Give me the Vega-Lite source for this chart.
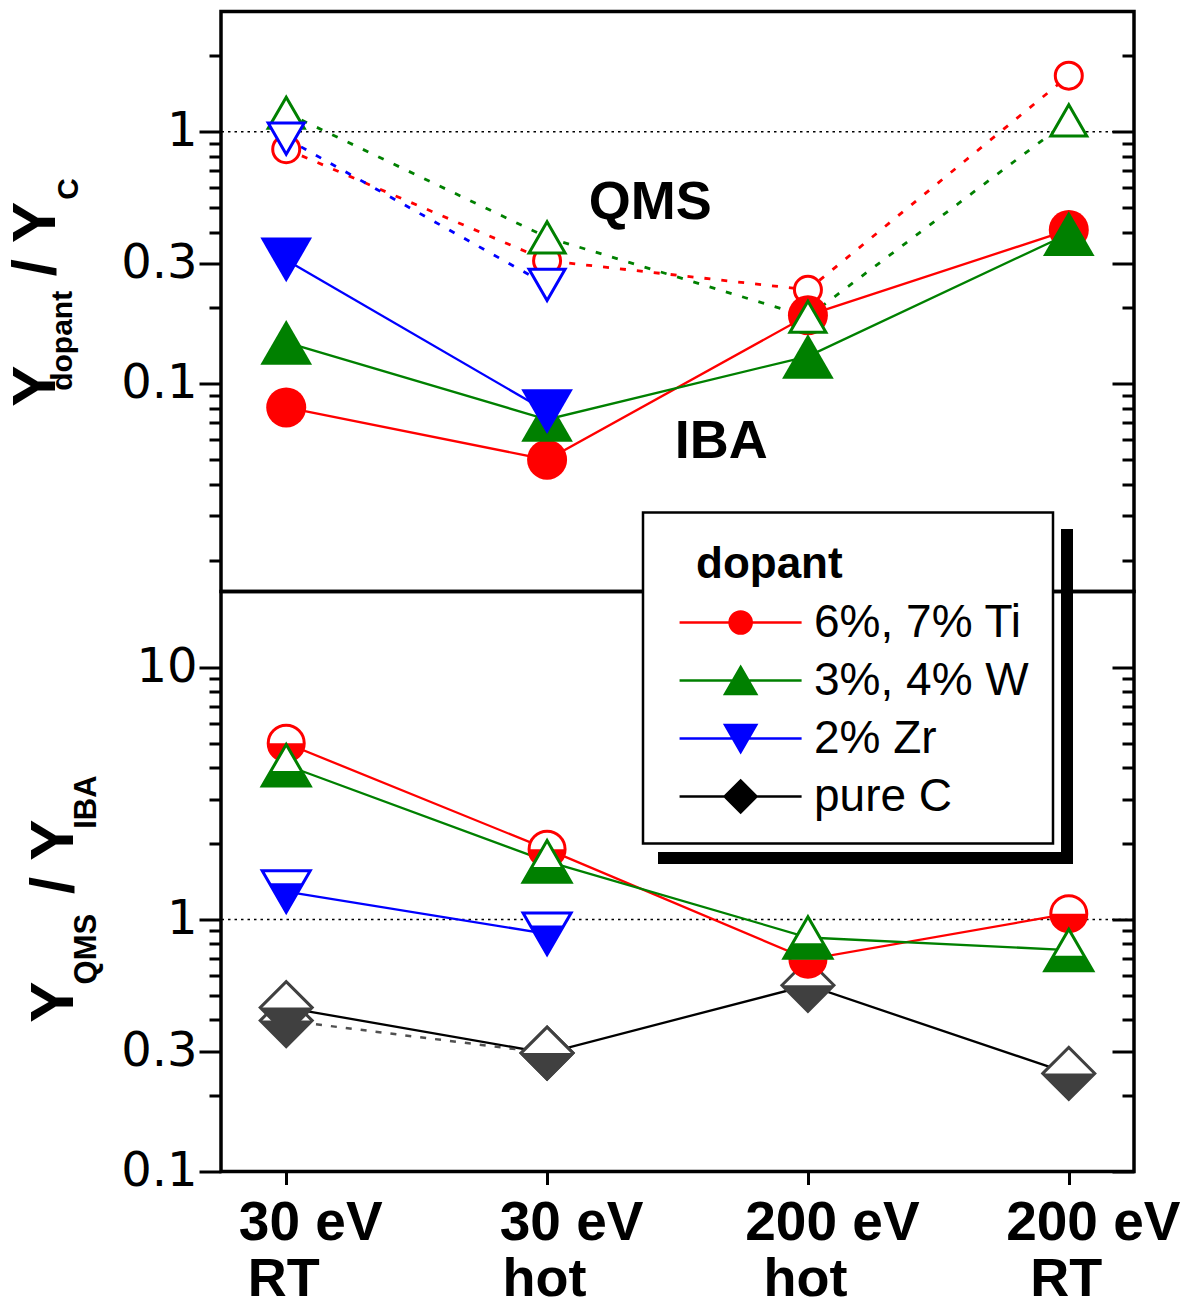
{
  "$schema": "https://vega.github.io/schema/vega-lite/v6.json",
  "padding": {"left": 3, "top": 9.5, "right": 0, "bottom": 0},
  "spacing": 0,
  "bounds": "flush",
  "config": {
    "font": "Liberation Sans",
    "view": {"stroke": "black", "strokeWidth": 3.5},
    "axis": {"grid": false, "domain": false, "tickColor": "black", "tickWidth": 3, "labelColor": "black"},
    "legend": {
      "titleFont": "Liberation Sans", "titleFontSize": 44, "titleFontWeight": "bold", "titleColor": "black", "titlePadding": 19,
      "labelFont": "Liberation Sans", "labelFontSize": 46, "labelColor": "black", "labelOffset": 101, "labelLimit": 400,
      "padding": 24, "rowPadding": 12, "symbolSize": 576, "symbolStrokeWidth": 2.5, "symbolOpacity": 1
    }
  },
  "datasets": {
    "top": [
      {"x": 1, "dopant": "6%, 7% Ti", "method": "QMS", "y": 0.853},
      {"x": 2, "dopant": "6%, 7% Ti", "method": "QMS", "y": 0.308},
      {"x": 3, "dopant": "6%, 7% Ti", "method": "QMS", "y": 0.236},
      {"x": 4, "dopant": "6%, 7% Ti", "method": "QMS", "y": 1.67},
      {"x": 1, "dopant": "3%, 4% W", "method": "QMS", "y": 1.19},
      {"x": 2, "dopant": "3%, 4% W", "method": "QMS", "y": 0.381},
      {"x": 3, "dopant": "3%, 4% W", "method": "QMS", "y": 0.1845},
      {"x": 4, "dopant": "3%, 4% W", "method": "QMS", "y": 1.11},
      {"x": 1, "dopant": "2% Zr", "method": "QMS", "y": 0.94},
      {"x": 2, "dopant": "2% Zr", "method": "QMS", "y": 0.247},
      {"x": 1, "dopant": "6%, 7% Ti", "method": "IBA", "y": 0.0806},
      {"x": 2, "dopant": "6%, 7% Ti", "method": "IBA", "y": 0.05},
      {"x": 3, "dopant": "6%, 7% Ti", "method": "IBA", "y": 0.187},
      {"x": 4, "dopant": "6%, 7% Ti", "method": "IBA", "y": 0.408},
      {"x": 1, "dopant": "3%, 4% W", "method": "IBA", "y": 0.146},
      {"x": 2, "dopant": "3%, 4% W", "method": "IBA", "y": 0.0722},
      {"x": 3, "dopant": "3%, 4% W", "method": "IBA", "y": 0.1286},
      {"x": 4, "dopant": "3%, 4% W", "method": "IBA", "y": 0.394},
      {"x": 1, "dopant": "2% Zr", "method": "IBA", "y": 0.31},
      {"x": 2, "dopant": "2% Zr", "method": "IBA", "y": 0.0776}
    ],
    "bottom": [
      {"x": 1, "dopant": "pure C", "series": "b", "y": 0.397},
      {"x": 2, "dopant": "pure C", "series": "b", "y": 0.295},
      {"x": 1, "dopant": "pure C", "series": "a", "y": 0.447},
      {"x": 2, "dopant": "pure C", "series": "a", "y": 0.295},
      {"x": 3, "dopant": "pure C", "series": "a", "y": 0.548},
      {"x": 4, "dopant": "pure C", "series": "a", "y": 0.245},
      {"x": 1, "dopant": "6%, 7% Ti", "series": "a", "y": 5.0},
      {"x": 2, "dopant": "6%, 7% Ti", "series": "a", "y": 1.9},
      {"x": 3, "dopant": "6%, 7% Ti", "series": "a", "y": 0.695},
      {"x": 4, "dopant": "6%, 7% Ti", "series": "a", "y": 1.054},
      {"x": 1, "dopant": "3%, 4% W", "series": "a", "y": 4.09},
      {"x": 2, "dopant": "3%, 4% W", "series": "a", "y": 1.7},
      {"x": 3, "dopant": "3%, 4% W", "series": "a", "y": 0.848},
      {"x": 4, "dopant": "3%, 4% W", "series": "a", "y": 0.756},
      {"x": 1, "dopant": "2% Zr", "series": "a", "y": 1.29},
      {"x": 2, "dopant": "2% Zr", "series": "a", "y": 0.877}
    ],
    "notes": [
      {"text": "QMS", "x": 2.396, "y": 0.522},
      {"text": "IBA", "x": 2.668, "y": 0.059}
    ],
    "titleTop": [
      {"text": "Y", "kind": "base", "x": 0.113, "y": 0.0811},
      {"text": "/ Y", "kind": "base", "x": 0.113, "y": 0.267},
      {"text": "dopant", "kind": "sub", "x": 0.178, "y": 0.0938},
      {"text": "C", "kind": "sub", "x": 0.2, "y": 0.537}
    ],
    "titleBottom": [
      {"text": "Y", "kind": "base", "x": 0.182, "y": 0.389},
      {"text": "/ Y", "kind": "base", "x": 0.182, "y": 1.262},
      {"text": "QMS", "kind": "sub", "x": 0.271, "y": 0.552},
      {"text": "IBA", "kind": "sub", "x": 0.271, "y": 2.29}
    ]
  },
  "vconcat": [
    {
      "width": 913,
      "height": 580,
      "resolve": {"axis": {"y": "independent"}},
      "layer": [
        {
          "data": {"values": [{}]},
          "mark": {"type": "rule", "color": "black", "strokeWidth": 1.5, "strokeDash": [2.5, 4]},
          "encoding": {
            "y": {
              "datum": 1, "type": "quantitative",
              "scale": {"type": "log", "domain": [0.015, 3], "nice": false},
              "axis": {
                "orient": "left", "title": null,
                "values": [0.02, 0.03, 0.04, 0.05, 0.06, 0.07, 0.08, 0.09, 0.1, 0.2, 0.3, 0.4, 0.5, 0.6, 0.7, 0.8, 0.9, 1, 2],
                "format": "~g",
                "labelExpr": "datum.value === 0.1 || datum.value === 0.3 || datum.value === 1 ? datum.label : ''",
                "tickSize": {"condition": {"test": "datum.value === 0.1 || datum.value === 0.3 || datum.value === 1", "value": 22}, "value": 12},
                "labelFont": "DejaVu Sans", "labelFontSize": 48, "labelPadding": 2,
                "labelFlush": false, "labelOverlap": false, "labelBound": false
              }
            }
          }
        },
        {
          "data": {"name": "top"},
          "transform": [{"filter": "datum.method === 'IBA'"}],
          "mark": {"type": "line", "strokeWidth": 2.3},
          "encoding": {
            "x": {
              "field": "x", "type": "quantitative",
              "scale": {"domain": [0.75, 4.25], "nice": false, "zero": false},
              "axis": {"orient": "top", "title": null, "values": [1, 1.5, 2, 2.5, 3, 3.5, 4], "labels": false, "tickSize": 5, "tickWidth": 2.5}
            },
            "y": {
              "field": "y", "type": "quantitative",
              "axis": {
                "orient": "right", "title": null, "labels": false,
                "values": [0.02, 0.03, 0.04, 0.05, 0.06, 0.07, 0.08, 0.09, 0.1, 0.2, 0.3, 0.4, 0.5, 0.6, 0.7, 0.8, 0.9, 1, 2],
                "tickSize": {"condition": {"test": "datum.value === 0.1 || datum.value === 0.3 || datum.value === 1", "value": -22}, "value": -12}
              }
            },
            "stroke": {
              "field": "dopant", "type": "nominal",
              "scale": {"domain": ["pure C", "6%, 7% Ti", "3%, 4% W", "2% Zr"], "range": ["#000000", "#ff0000", "#008000", "#0000ff"]},
              "legend": null
            }
          }
        },
        {
          "data": {"name": "top"},
          "transform": [{"filter": "datum.method === 'QMS'"}],
          "mark": {"type": "line", "strokeWidth": 2.8, "strokeDash": [6, 11]},
          "encoding": {
            "x": {"field": "x", "type": "quantitative", "axis": null},
            "y": {"field": "y", "type": "quantitative", "axis": null},
            "stroke": {"field": "dopant", "type": "nominal", "legend": null}
          }
        },
        {
          "data": {"name": "top"},
          "transform": [{"filter": "datum.dopant === '6%, 7% Ti'"}],
          "mark": {"type": "point", "shape": "circle", "filled": true, "opacity": 1, "stroke": "#ff0000"},
          "encoding": {
            "x": {"field": "x", "type": "quantitative", "axis": null},
            "y": {"field": "y", "type": "quantitative", "axis": null},
            "fill": {"condition": {"test": "datum.method === 'QMS'", "value": "white"}, "value": "#ff0000"},
            "size": {"condition": {"test": "datum.method === 'QMS'", "value": 729}, "value": 1600},
            "strokeWidth": {"condition": {"test": "datum.method === 'QMS'", "value": 3}, "value": 0}
          }
        },
        {
          "data": {"name": "top"},
          "transform": [{"filter": "datum.dopant === '3%, 4% W'"}],
          "mark": {"type": "point", "shape": "triangle-up", "filled": true, "opacity": 1, "stroke": "#008000"},
          "encoding": {
            "x": {"field": "x", "type": "quantitative", "axis": null},
            "y": {"field": "y", "type": "quantitative", "axis": null},
            "fill": {"condition": {"test": "datum.method === 'QMS'", "value": "white"}, "value": "#008000"},
            "size": {"condition": {"test": "datum.method === 'QMS'", "value": 1296}, "value": 2670},
            "strokeWidth": {"condition": {"test": "datum.method === 'QMS'", "value": 3}, "value": 0}
          }
        },
        {
          "data": {"name": "top"},
          "transform": [{"filter": "datum.dopant === '2% Zr'"}],
          "mark": {"type": "point", "shape": "triangle-down", "filled": true, "opacity": 1, "stroke": "#0000ff"},
          "encoding": {
            "x": {"field": "x", "type": "quantitative", "axis": null},
            "y": {"field": "y", "type": "quantitative", "axis": null},
            "fill": {"condition": {"test": "datum.method === 'QMS'", "value": "white"}, "value": "#0000ff"},
            "size": {"condition": {"test": "datum.method === 'QMS'", "value": 1296}, "value": 2670},
            "strokeWidth": {"condition": {"test": "datum.method === 'QMS'", "value": 3}, "value": 0}
          }
        },
        {
          "data": {"name": "notes"},
          "mark": {"type": "text", "fontSize": 54, "fontWeight": "bold", "align": "center", "baseline": "middle", "color": "black"},
          "encoding": {
            "x": {"field": "x", "type": "quantitative", "axis": null},
            "y": {"field": "y", "type": "quantitative", "axis": null},
            "text": {"field": "text"}
          }
        },
        {
          "data": {"name": "titleTop"},
          "transform": [{"filter": "datum.kind === 'base'"}],
          "mark": {"type": "text", "fontSize": 62, "fontWeight": "bold", "angle": 270, "align": "left", "baseline": "alphabetic", "color": "black"},
          "encoding": {
            "x": {"field": "x", "type": "quantitative", "axis": null},
            "y": {"field": "y", "type": "quantitative", "axis": null},
            "text": {"field": "text"}
          }
        },
        {
          "data": {"name": "titleTop"},
          "transform": [{"filter": "datum.kind === 'sub'"}],
          "mark": {"type": "text", "fontSize": 30, "fontWeight": "bold", "angle": 270, "align": "left", "baseline": "alphabetic", "color": "black"},
          "encoding": {
            "x": {"field": "x", "type": "quantitative", "axis": null},
            "y": {"field": "y", "type": "quantitative", "axis": null},
            "text": {"field": "text"}
          }
        }
      ]
    },
    {
      "width": 913,
      "height": 580,
      "resolve": {"axis": {"x": "independent", "y": "independent"}},
      "layer": [
        {
          "data": {"values": [{}]},
          "mark": {"type": "rule", "color": "black", "strokeWidth": 1.5, "strokeDash": [2.5, 4]},
          "encoding": {
            "y": {
              "datum": 1, "type": "quantitative",
              "scale": {"type": "log", "domain": [0.1, 20], "nice": false},
              "axis": {
                "orient": "left", "title": null,
                "values": [0.1, 0.2, 0.3, 0.4, 0.5, 0.6, 0.7, 0.8, 0.9, 1, 2, 3, 4, 5, 6, 7, 8, 9, 10],
                "format": "~g",
                "labelExpr": "datum.value === 0.1 || datum.value === 0.3 || datum.value === 1 || datum.value === 10 ? datum.label : ''",
                "tickSize": {"condition": {"test": "datum.value === 0.1 || datum.value === 0.3 || datum.value === 1 || datum.value === 10", "value": 22}, "value": 12},
                "labelFont": "DejaVu Sans", "labelFontSize": 48, "labelPadding": 2,
                "labelFlush": false, "labelOverlap": false, "labelBound": false
              }
            }
          }
        },
        {
          "data": {"name": "bottom"},
          "transform": [{"filter": "datum.series === 'a'"}],
          "mark": {"type": "line", "strokeWidth": 2.3},
          "encoding": {
            "x": {
              "field": "x", "type": "quantitative",
              "scale": {"domain": [0.75, 4.25], "nice": false, "zero": false},
              "axis": {
                "orient": "bottom", "title": null, "values": [1, 2, 3, 4],
                "labelExpr": "datum.value < 2.5 ? '30 eV' : '200 eV'",
                "labelFontSize": 55, "labelFontWeight": "bold", "labelBaseline": "alphabetic", "labelAlign": "center",
                "labelPadding": 55, "labelOffset": 24, "tickSize": 13,
                "labelFlush": false, "labelOverlap": false, "labelBound": false
              }
            },
            "y": {
              "field": "y", "type": "quantitative",
              "axis": {
                "orient": "right", "title": null, "labels": false,
                "values": [0.1, 0.2, 0.3, 0.4, 0.5, 0.6, 0.7, 0.8, 0.9, 1, 2, 3, 4, 5, 6, 7, 8, 9, 10],
                "tickSize": {"condition": {"test": "datum.value === 0.1 || datum.value === 0.3 || datum.value === 1 || datum.value === 10", "value": -22}, "value": -12}
              }
            },
            "stroke": {"field": "dopant", "type": "nominal", "legend": null}
          }
        },
        {
          "data": {"name": "bottom"},
          "transform": [{"filter": "datum.series === 'b'"}],
          "mark": {"type": "line", "strokeWidth": 2.5, "strokeDash": [6, 9], "color": "#505050"},
          "encoding": {
            "x": {
              "field": "x", "type": "quantitative",
              "axis": {
                "orient": "bottom", "title": null, "values": [1, 2, 3, 4],
                "labelExpr": "datum.value === 1 || datum.value === 4 ? 'RT' : 'hot'",
                "labelFontSize": 54, "labelFontWeight": "bold", "labelBaseline": "alphabetic", "labelAlign": "center",
                "labelPadding": 111, "labelOffset": -3, "tickSize": 13, "tickOpacity": 0,
                "labelFlush": false, "labelOverlap": false, "labelBound": false
              }
            },
            "y": {"field": "y", "type": "quantitative", "axis": null}
          }
        },
        {
          "data": {"name": "bottom"},
          "transform": [{"filter": "datum.dopant === 'pure C'"}],
          "mark": {"type": "point", "shape": "diamond", "filled": true, "opacity": 1, "fill": "white", "stroke": "#404040", "strokeWidth": 3, "size": 2704},
          "encoding": {
            "x": {"field": "x", "type": "quantitative", "axis": null},
            "y": {"field": "y", "type": "quantitative", "axis": null}
          }
        },
        {
          "data": {"name": "bottom"},
          "transform": [{"filter": "datum.dopant === 'pure C'"}],
          "mark": {"type": "point", "shape": "M-1,0L1,0L0,1Z", "filled": true, "opacity": 1, "fill": "#404040", "strokeWidth": 0, "size": 2704},
          "encoding": {
            "x": {"field": "x", "type": "quantitative", "axis": null},
            "y": {"field": "y", "type": "quantitative", "axis": null}
          }
        },
        {
          "data": {"name": "bottom"},
          "transform": [{"filter": "datum.dopant === '6%, 7% Ti'"}],
          "mark": {"type": "point", "shape": "circle", "filled": true, "opacity": 1, "fill": "white", "stroke": "#ff0000", "strokeWidth": 3, "size": 1296},
          "encoding": {
            "x": {"field": "x", "type": "quantitative", "axis": null},
            "y": {"field": "y", "type": "quantitative", "axis": null}
          }
        },
        {
          "data": {"name": "bottom"},
          "transform": [{"filter": "datum.dopant === '6%, 7% Ti'"}],
          "mark": {"type": "point", "shape": "M-1,0A1,1,0,0,0,1,0Z", "filled": true, "opacity": 1, "fill": "#ff0000", "strokeWidth": 0, "size": 1296},
          "encoding": {
            "x": {"field": "x", "type": "quantitative", "axis": null},
            "y": {"field": "y", "type": "quantitative", "axis": null}
          }
        },
        {
          "data": {"name": "bottom"},
          "transform": [{"filter": "datum.dopant === '3%, 4% W'"}],
          "mark": {"type": "point", "shape": "triangle-up", "filled": true, "opacity": 1, "fill": "white", "stroke": "#008000", "strokeWidth": 3, "size": 2304},
          "encoding": {
            "x": {"field": "x", "type": "quantitative", "axis": null},
            "y": {"field": "y", "type": "quantitative", "axis": null}
          }
        },
        {
          "data": {"name": "bottom"},
          "transform": [{"filter": "datum.dopant === '3%, 4% W'"}],
          "mark": {"type": "point", "shape": "M-0.64,0.24L0.64,0.24L1,0.866L-1,0.866Z", "filled": true, "opacity": 1, "fill": "#008000", "strokeWidth": 0, "size": 2304},
          "encoding": {
            "x": {"field": "x", "type": "quantitative", "axis": null},
            "y": {"field": "y", "type": "quantitative", "axis": null}
          }
        },
        {
          "data": {"name": "bottom"},
          "transform": [{"filter": "datum.dopant === '2% Zr'"}],
          "mark": {"type": "point", "shape": "triangle-down", "filled": true, "opacity": 1, "fill": "white", "stroke": "#0000ff", "strokeWidth": 3, "size": 2304},
          "encoding": {
            "x": {"field": "x", "type": "quantitative", "axis": null},
            "y": {"field": "y", "type": "quantitative", "axis": null}
          }
        },
        {
          "data": {"name": "bottom"},
          "transform": [{"filter": "datum.dopant === '2% Zr'"}],
          "mark": {"type": "point", "shape": "M-0.7,-0.346L0.7,-0.346L0,0.866Z", "filled": true, "opacity": 1, "fill": "#0000ff", "strokeWidth": 0, "size": 2304},
          "encoding": {
            "x": {"field": "x", "type": "quantitative", "axis": null},
            "y": {"field": "y", "type": "quantitative", "axis": null}
          }
        },
        {
          "data": {"name": "bottom"},
          "transform": [{"filter": "datum.series === 'a'"}],
          "mark": {"type": "point", "filled": true, "opacity": 0},
          "encoding": {
            "color": {
              "field": "dopant", "type": "nominal",
              "scale": {"domain": ["6%, 7% Ti", "3%, 4% W", "2% Zr", "pure C"], "range": ["#ff0000", "#008000", "#0000ff", "#000000"]},
              "legend": {
                "title": "dopant", "orient": "none", "legendX": 422, "legendY": 501, "zindex": 2,
                "fillColor": "white", "strokeColor": "black",
                "encode": {
                  "legend": {"update": {"strokeWidth": {"value": 2.5}}},
                  "title": {"update": {"dx": {"value": 29}, "dy": {"value": 6}}},
                  "symbols": {"update": {"stroke": {"scale": "color", "field": "value"}}}
                }
              }
            },
            "shape": {
              "field": "dopant", "type": "nominal",
              "scale": {
                "domain": ["6%, 7% Ti", "3%, 4% W", "2% Zr", "pure C"],
                "range": [
                  "M-0.87,0H9.3M5.14,0A0.92,0.92,0,1,1,3.3,0A0.92,0.92,0,1,1,5.14,0Z",
                  "M-0.87,0H9.3M4.22,-1.126L5.52,1.126L2.92,1.126Z",
                  "M-0.87,0H9.3M4.22,1.126L5.52,-1.126L2.92,-1.126Z",
                  "M-0.87,0H9.3M2.89,0L4.22,-1.33L5.55,0L4.22,1.33Z"
                ]
              }
            }
          }
        },
        {
          "data": {"name": "bottom"},
          "transform": [{"filter": "datum.series === 'a'"}],
          "mark": {"type": "point", "filled": true, "opacity": 0, "color": "black"},
          "encoding": {
            "strokeDash": {
              "field": "dopant", "type": "nominal",
              "legend": {
                "title": null, "orient": "none", "legendX": 621.5, "legendY": 662, "zindex": 1,
                "values": ["pure C"], "labelExpr": "''", "padding": 0,
                "fillColor": "transparent", "strokeColor": "transparent",
                "symbolSize": 4, "symbolStrokeWidth": 0,
                "symbolType": "M195.5,-167.5L207.5,-167.5L207.5,167.5L-207.5,167.5L-207.5,155.5L195.5,155.5Z",
                "symbolStrokeColor": "black", "symbolFillColor": "black"
              }
            }
          }
        },
        {
          "data": {"name": "titleBottom"},
          "transform": [{"filter": "datum.kind === 'base'"}],
          "mark": {"type": "text", "fontSize": 62, "fontWeight": "bold", "angle": 270, "align": "left", "baseline": "alphabetic", "color": "black"},
          "encoding": {
            "x": {"field": "x", "type": "quantitative", "axis": null},
            "y": {"field": "y", "type": "quantitative", "axis": null},
            "text": {"field": "text"}
          }
        },
        {
          "data": {"name": "titleBottom"},
          "transform": [{"filter": "datum.kind === 'sub'"}],
          "mark": {"type": "text", "fontSize": 31, "fontWeight": "bold", "angle": 270, "align": "left", "baseline": "alphabetic", "color": "black"},
          "encoding": {
            "x": {"field": "x", "type": "quantitative", "axis": null},
            "y": {"field": "y", "type": "quantitative", "axis": null},
            "text": {"field": "text"}
          }
        }
      ]
    }
  ]
}
